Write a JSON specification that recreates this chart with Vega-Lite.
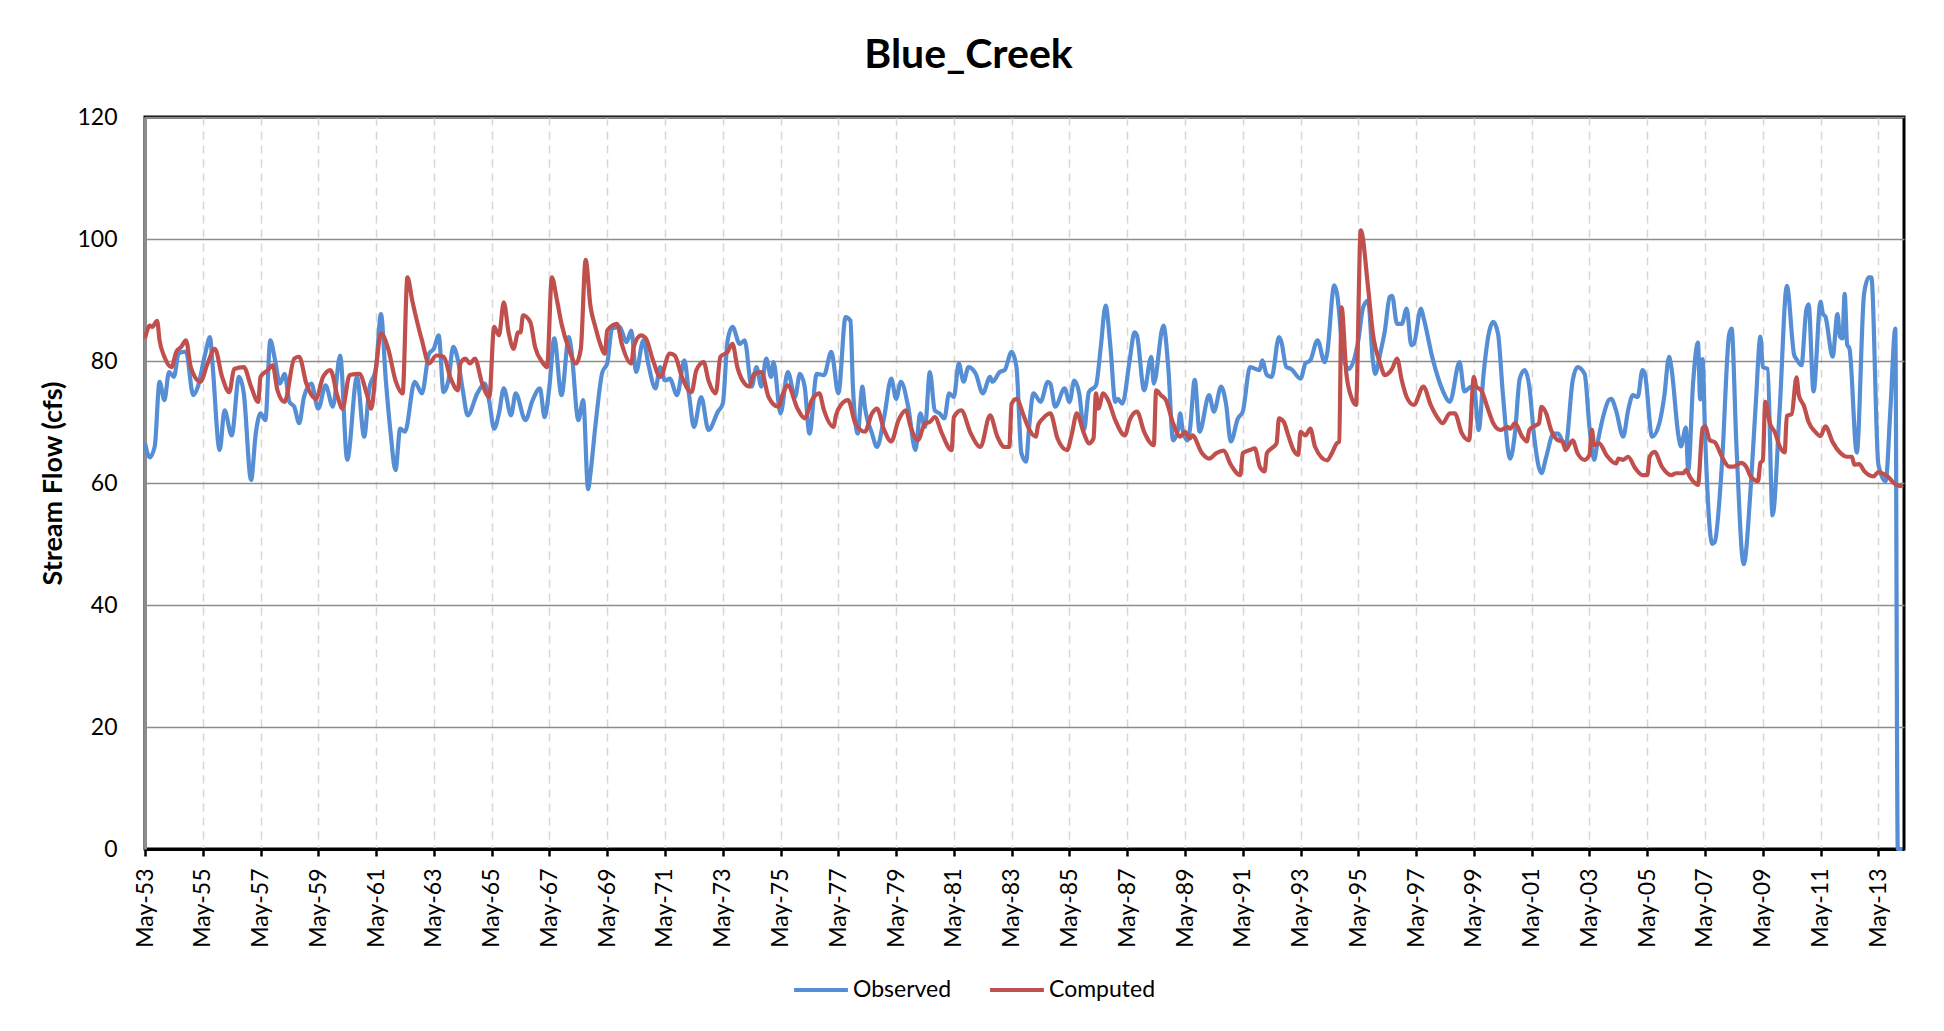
{
  "$schema": "https://vega.github.io/schema/vega-lite/v6.json",
  "width": 1759,
  "height": 732,
  "autosize": {"type": "none"},
  "padding": {"left": 145, "top": 117, "right": 40, "bottom": 182},
  "background": "white",
  "config": {
    "view": {"stroke": "black", "strokeWidth": 3},
    "font": "Lato"
  },
  "title": {"text": "Blue_Creek", "font": "Lato", "fontSize": 41, "fontWeight": "bold", "color": "black", "anchor": "middle", "frame": "group", "dx": -56, "offset": -3, "baseline": "alphabetic"},
  "data": {"values": [
    {"date":"1953-05","series":"Observed","flow":66.5},{"date":"1953-07","series":"Observed","flow":64.2},{"date":"1953-09","series":"Observed","flow":66.0},{"date":"1953-11","series":"Observed","flow":76.6},{"date":"1954-01","series":"Observed","flow":73.6},{"date":"1954-03","series":"Observed","flow":78.2},{"date":"1954-05","series":"Observed","flow":77.4},{"date":"1954-07","series":"Observed","flow":81.2},{"date":"1954-09","series":"Observed","flow":81.5},{"date":"1954-10","series":"Observed","flow":81.5},{"date":"1955-01","series":"Observed","flow":74.4},{"date":"1955-03","series":"Observed","flow":75.8},{"date":"1955-06","series":"Observed","flow":81.2},{"date":"1955-08","series":"Observed","flow":83.9},{"date":"1955-09","series":"Observed","flow":79.6},{"date":"1955-12","series":"Observed","flow":65.4},{"date":"1956-02","series":"Observed","flow":71.9},{"date":"1956-05","series":"Observed","flow":67.8},{"date":"1956-08","series":"Observed","flow":77.4},{"date":"1956-10","series":"Observed","flow":74.7},{"date":"1957-01","series":"Observed","flow":60.5},{"date":"1957-03","series":"Observed","flow":68.1},{"date":"1957-05","series":"Observed","flow":71.4},{"date":"1957-07","series":"Observed","flow":70.3},{"date":"1957-09","series":"Observed","flow":83.4},{"date":"1957-11","series":"Observed","flow":80.1},{"date":"1958-01","series":"Observed","flow":76.3},{"date":"1958-03","series":"Observed","flow":77.9},{"date":"1958-05","series":"Observed","flow":73.3},{"date":"1958-07","series":"Observed","flow":72.5},{"date":"1958-09","series":"Observed","flow":69.8},{"date":"1958-11","series":"Observed","flow":74.1},{"date":"1959-02","series":"Observed","flow":76.3},{"date":"1959-05","series":"Observed","flow":72.2},{"date":"1959-08","series":"Observed","flow":76.0},{"date":"1959-11","series":"Observed","flow":72.5},{"date":"1960-02","series":"Observed","flow":80.9},{"date":"1960-05","series":"Observed","flow":63.8},{"date":"1960-09","series":"Observed","flow":77.4},{"date":"1960-12","series":"Observed","flow":67.6},
    {"date":"1961-02","series":"Observed","flow":75.2},{"date":"1961-05","series":"Observed","flow":79.0},{"date":"1961-07","series":"Observed","flow":87.7},{"date":"1961-09","series":"Observed","flow":76.8},{"date":"1961-11","series":"Observed","flow":68.1},{"date":"1962-01","series":"Observed","flow":62.1},{"date":"1962-03","series":"Observed","flow":68.9},{"date":"1962-05","series":"Observed","flow":68.4},{"date":"1962-09","series":"Observed","flow":76.6},{"date":"1962-12","series":"Observed","flow":74.7},{"date":"1963-03","series":"Observed","flow":81.2},{"date":"1963-05","series":"Observed","flow":82.0},{"date":"1963-07","series":"Observed","flow":84.2},{"date":"1963-09","series":"Observed","flow":74.9},{"date":"1963-11","series":"Observed","flow":76.8},{"date":"1964-01","series":"Observed","flow":82.3},{"date":"1964-03","series":"Observed","flow":80.1},{"date":"1964-05","series":"Observed","flow":75.2},{"date":"1964-07","series":"Observed","flow":71.1},{"date":"1964-11","series":"Observed","flow":74.7},{"date":"1965-02","series":"Observed","flow":76.3},{"date":"1965-04","series":"Observed","flow":73.3},{"date":"1965-06","series":"Observed","flow":68.9},{"date":"1965-08","series":"Observed","flow":71.4},{"date":"1965-10","series":"Observed","flow":75.5},{"date":"1966-01","series":"Observed","flow":71.1},{"date":"1966-03","series":"Observed","flow":74.7},{"date":"1966-07","series":"Observed","flow":70.3},{"date":"1966-10","series":"Observed","flow":73.6},{"date":"1967-01","series":"Observed","flow":75.5},{"date":"1967-03","series":"Observed","flow":70.8},{"date":"1967-05","series":"Observed","flow":75.8},{"date":"1967-07","series":"Observed","flow":83.7},{"date":"1967-10","series":"Observed","flow":74.4},{"date":"1968-01","series":"Observed","flow":83.9},{"date":"1968-02","series":"Observed","flow":82.0},{"date":"1968-05","series":"Observed","flow":70.3},{"date":"1968-07","series":"Observed","flow":73.6},{"date":"1968-09","series":"Observed","flow":59.0},{"date":"1968-10","series":"Observed","flow":61.6},
    {"date":"1968-12","series":"Observed","flow":69.2},{"date":"1969-03","series":"Observed","flow":78.2},{"date":"1969-05","series":"Observed","flow":79.6},{"date":"1969-07","series":"Observed","flow":85.3},{"date":"1969-10","series":"Observed","flow":85.6},{"date":"1970-01","series":"Observed","flow":83.1},{"date":"1970-03","series":"Observed","flow":85.0},{"date":"1970-05","series":"Observed","flow":78.2},{"date":"1970-08","series":"Observed","flow":83.4},{"date":"1970-10","series":"Observed","flow":79.6},{"date":"1971-01","series":"Observed","flow":75.5},{"date":"1971-03","series":"Observed","flow":79.0},{"date":"1971-05","series":"Observed","flow":76.8},{"date":"1971-07","series":"Observed","flow":77.1},{"date":"1971-10","series":"Observed","flow":74.4},{"date":"1972-01","series":"Observed","flow":80.1},{"date":"1972-03","series":"Observed","flow":74.4},{"date":"1972-05","series":"Observed","flow":69.2},{"date":"1972-08","series":"Observed","flow":74.1},{"date":"1972-11","series":"Observed","flow":68.7},{"date":"1973-03","series":"Observed","flow":71.7},{"date":"1973-05","series":"Observed","flow":73.0},{"date":"1973-07","series":"Observed","flow":83.4},{"date":"1973-09","series":"Observed","flow":85.6},{"date":"1973-12","series":"Observed","flow":82.8},{"date":"1974-02","series":"Observed","flow":83.4},{"date":"1974-05","series":"Observed","flow":75.8},{"date":"1974-07","series":"Observed","flow":79.0},{"date":"1974-09","series":"Observed","flow":75.8},{"date":"1974-11","series":"Observed","flow":80.4},{"date":"1975-01","series":"Observed","flow":77.4},{"date":"1975-02","series":"Observed","flow":79.8},{"date":"1975-05","series":"Observed","flow":71.4},{"date":"1975-08","series":"Observed","flow":78.2},{"date":"1975-11","series":"Observed","flow":74.1},{"date":"1976-01","series":"Observed","flow":77.9},{"date":"1976-03","series":"Observed","flow":75.8},{"date":"1976-05","series":"Observed","flow":68.1},
    {"date":"1976-08","series":"Observed","flow":77.9},{"date":"1976-11","series":"Observed","flow":77.7},{"date":"1977-02","series":"Observed","flow":81.5},{"date":"1977-05","series":"Observed","flow":74.7},{"date":"1977-08","series":"Observed","flow":87.2},{"date":"1977-10","series":"Observed","flow":86.6},{"date":"1977-11","series":"Observed","flow":75.8},{"date":"1978-01","series":"Observed","flow":68.1},{"date":"1978-03","series":"Observed","flow":75.8},{"date":"1978-04","series":"Observed","flow":72.5},{"date":"1978-07","series":"Observed","flow":68.1},{"date":"1978-09","series":"Observed","flow":65.9},{"date":"1978-12","series":"Observed","flow":70.8},{"date":"1979-03","series":"Observed","flow":77.1},{"date":"1979-05","series":"Observed","flow":73.8},{"date":"1979-07","series":"Observed","flow":76.6},{"date":"1979-10","series":"Observed","flow":72.5},{"date":"1980-01","series":"Observed","flow":65.4},{"date":"1980-03","series":"Observed","flow":71.4},{"date":"1980-05","series":"Observed","flow":69.2},{"date":"1980-07","series":"Observed","flow":78.2},{"date":"1980-09","series":"Observed","flow":71.9},{"date":"1980-11","series":"Observed","flow":71.4},{"date":"1981-01","series":"Observed","flow":70.6},{"date":"1981-03","series":"Observed","flow":74.7},{"date":"1981-05","series":"Observed","flow":74.1},{"date":"1981-07","series":"Observed","flow":79.6},{"date":"1981-09","series":"Observed","flow":76.6},{"date":"1981-11","series":"Observed","flow":79.0},{"date":"1982-02","series":"Observed","flow":77.9},{"date":"1982-05","series":"Observed","flow":74.7},{"date":"1982-08","series":"Observed","flow":77.4},{"date":"1982-09","series":"Observed","flow":76.6},{"date":"1982-12","series":"Observed","flow":78.2},{"date":"1983-02","series":"Observed","flow":78.5},{"date":"1983-05","series":"Observed","flow":81.5},{"date":"1983-07","series":"Observed","flow":79.0},{"date":"1983-09","series":"Observed","flow":64.9},{"date":"1983-11","series":"Observed","flow":63.5},
    {"date":"1983-12","series":"Observed","flow":68.1},{"date":"1984-02","series":"Observed","flow":74.7},{"date":"1984-05","series":"Observed","flow":73.3},{"date":"1984-08","series":"Observed","flow":76.6},{"date":"1984-09","series":"Observed","flow":76.3},{"date":"1984-11","series":"Observed","flow":72.5},{"date":"1985-03","series":"Observed","flow":75.5},{"date":"1985-05","series":"Observed","flow":73.3},{"date":"1985-07","series":"Observed","flow":76.8},{"date":"1985-09","series":"Observed","flow":74.7},{"date":"1985-11","series":"Observed","flow":68.7},{"date":"1986-01","series":"Observed","flow":74.9},{"date":"1986-04","series":"Observed","flow":76.0},{"date":"1986-06","series":"Observed","flow":82.3},{"date":"1986-08","series":"Observed","flow":89.1},{"date":"1986-10","series":"Observed","flow":82.3},{"date":"1986-12","series":"Observed","flow":73.3},{"date":"1987-01","series":"Observed","flow":73.8},{"date":"1987-03","series":"Observed","flow":73.0},{"date":"1987-06","series":"Observed","flow":80.1},{"date":"1987-08","series":"Observed","flow":84.7},{"date":"1987-09","series":"Observed","flow":84.2},{"date":"1987-12","series":"Observed","flow":75.2},{"date":"1988-03","series":"Observed","flow":80.7},{"date":"1988-04","series":"Observed","flow":76.3},{"date":"1988-08","series":"Observed","flow":85.8},{"date":"1988-10","series":"Observed","flow":79.0},{"date":"1988-12","series":"Observed","flow":67.0},{"date":"1989-02","series":"Observed","flow":68.7},{"date":"1989-03","series":"Observed","flow":71.4},{"date":"1989-04","series":"Observed","flow":68.7},{"date":"1989-06","series":"Observed","flow":67.0},{"date":"1989-07","series":"Observed","flow":68.7},{"date":"1989-09","series":"Observed","flow":76.9},{"date":"1989-11","series":"Observed","flow":68.4},{"date":"1990-03","series":"Observed","flow":74.4},{"date":"1990-05","series":"Observed","flow":71.7},{"date":"1990-08","series":"Observed","flow":75.8},{"date":"1990-10","series":"Observed","flow":73.0},{"date":"1990-12","series":"Observed","flow":66.8},{"date":"1991-03","series":"Observed","flow":70.6},{"date":"1991-05","series":"Observed","flow":71.7},{"date":"1991-08","series":"Observed","flow":79.0},
    {"date":"1991-12","series":"Observed","flow":78.5},{"date":"1992-01","series":"Observed","flow":80.1},{"date":"1992-03","series":"Observed","flow":77.7},{"date":"1992-05","series":"Observed","flow":77.4},{"date":"1992-08","series":"Observed","flow":83.9},{"date":"1992-09","series":"Observed","flow":83.1},{"date":"1992-11","series":"Observed","flow":79.0},{"date":"1993-01","series":"Observed","flow":78.7},{"date":"1993-05","series":"Observed","flow":77.1},{"date":"1993-07","series":"Observed","flow":79.6},{"date":"1993-09","series":"Observed","flow":80.1},{"date":"1993-12","series":"Observed","flow":83.4},{"date":"1994-03","series":"Observed","flow":79.8},{"date":"1994-04","series":"Observed","flow":81.2},{"date":"1994-07","series":"Observed","flow":92.4},{"date":"1994-08","series":"Observed","flow":91.3},{"date":"1994-11","series":"Observed","flow":80.1},{"date":"1995-01","series":"Observed","flow":78.7},{"date":"1995-05","series":"Observed","flow":83.4},{"date":"1995-07","series":"Observed","flow":88.8},{"date":"1995-09","series":"Observed","flow":89.9},{"date":"1995-11","series":"Observed","flow":80.1},{"date":"1995-12","series":"Observed","flow":77.9},{"date":"1996-02","series":"Observed","flow":81.2},{"date":"1996-04","series":"Observed","flow":85.0},{"date":"1996-06","series":"Observed","flow":90.5},{"date":"1996-07","series":"Observed","flow":90.7},{"date":"1996-09","series":"Observed","flow":86.1},{"date":"1996-11","series":"Observed","flow":86.1},{"date":"1997-01","series":"Observed","flow":88.6},{"date":"1997-03","series":"Observed","flow":82.6},{"date":"1997-04","series":"Observed","flow":82.8},{"date":"1997-07","series":"Observed","flow":88.6},{"date":"1997-08","series":"Observed","flow":87.2},{"date":"1997-12","series":"Observed","flow":80.1},{"date":"1998-04","series":"Observed","flow":75.2},{"date":"1998-07","series":"Observed","flow":73.3},{"date":"1998-11","series":"Observed","flow":79.8},{"date":"1999-01","series":"Observed","flow":75.0},
    {"date":"1999-04","series":"Observed","flow":75.8},{"date":"1999-05","series":"Observed","flow":75.8},{"date":"1999-07","series":"Observed","flow":68.7},{"date":"1999-09","series":"Observed","flow":77.9},{"date":"1999-11","series":"Observed","flow":84.2},{"date":"2000-01","series":"Observed","flow":86.4},{"date":"2000-03","series":"Observed","flow":84.5},{"date":"2000-05","series":"Observed","flow":74.7},{"date":"2000-08","series":"Observed","flow":64.0},{"date":"2000-10","series":"Observed","flow":68.1},{"date":"2000-12","series":"Observed","flow":77.1},{"date":"2001-02","series":"Observed","flow":78.5},{"date":"2001-04","series":"Observed","flow":75.8},{"date":"2001-06","series":"Observed","flow":67.6},{"date":"2001-09","series":"Observed","flow":61.6},{"date":"2001-11","series":"Observed","flow":64.3},{"date":"2002-02","series":"Observed","flow":68.1},{"date":"2002-04","series":"Observed","flow":68.1},{"date":"2002-07","series":"Observed","flow":65.9},{"date":"2002-10","series":"Observed","flow":76.8},{"date":"2002-12","series":"Observed","flow":79.0},{"date":"2003-03","series":"Observed","flow":77.9},{"date":"2003-05","series":"Observed","flow":69.2},{"date":"2003-07","series":"Observed","flow":63.8},{"date":"2003-08","series":"Observed","flow":65.9},{"date":"2003-11","series":"Observed","flow":71.4},{"date":"2004-01","series":"Observed","flow":73.6},{"date":"2004-02","series":"Observed","flow":73.8},{"date":"2004-04","series":"Observed","flow":71.9},{"date":"2004-07","series":"Observed","flow":67.6},{"date":"2004-09","series":"Observed","flow":71.9},{"date":"2004-11","series":"Observed","flow":74.4},{"date":"2005-01","series":"Observed","flow":74.1},{"date":"2005-03","series":"Observed","flow":78.5},{"date":"2005-04","series":"Observed","flow":77.9},{"date":"2005-07","series":"Observed","flow":67.6},{"date":"2005-10","series":"Observed","flow":69.8},{"date":"2005-12","series":"Observed","flow":74.1},{"date":"2006-02","series":"Observed","flow":80.7},{"date":"2006-03","series":"Observed","flow":79.0},{"date":"2006-06","series":"Observed","flow":67.6},{"date":"2006-07","series":"Observed","flow":66.0},{"date":"2006-09","series":"Observed","flow":69.1},{"date":"2006-10","series":"Observed","flow":62.0},
    {"date":"2006-12","series":"Observed","flow":76.3},{"date":"2007-02","series":"Observed","flow":83.0},{"date":"2007-03","series":"Observed","flow":73.7},{"date":"2007-04","series":"Observed","flow":80.3},{"date":"2007-05","series":"Observed","flow":68.3},{"date":"2007-08","series":"Observed","flow":50.0},{"date":"2007-09","series":"Observed","flow":50.3},{"date":"2007-12","series":"Observed","flow":63.0},{"date":"2008-03","series":"Observed","flow":84.3},{"date":"2008-04","series":"Observed","flow":85.3},{"date":"2008-06","series":"Observed","flow":66.3},{"date":"2008-09","series":"Observed","flow":46.7},{"date":"2008-12","series":"Observed","flow":59.7},{"date":"2009-02","series":"Observed","flow":73.0},{"date":"2009-04","series":"Observed","flow":84.0},{"date":"2009-05","series":"Observed","flow":79.0},{"date":"2009-07","series":"Observed","flow":78.7},{"date":"2009-09","series":"Observed","flow":54.7},{"date":"2009-12","series":"Observed","flow":72.3},{"date":"2010-03","series":"Observed","flow":92.3},{"date":"2010-06","series":"Observed","flow":81.0},{"date":"2010-07","series":"Observed","flow":80.3},{"date":"2010-09","series":"Observed","flow":79.3},{"date":"2010-11","series":"Observed","flow":88.3},{"date":"2010-12","series":"Observed","flow":89.3},{"date":"2011-02","series":"Observed","flow":75.0},{"date":"2011-05","series":"Observed","flow":89.7},{"date":"2011-06","series":"Observed","flow":87.7},{"date":"2011-07","series":"Observed","flow":87.3},{"date":"2011-10","series":"Observed","flow":80.7},{"date":"2011-12","series":"Observed","flow":87.7},{"date":"2012-01","series":"Observed","flow":84.0},{"date":"2012-02","series":"Observed","flow":83.7},{"date":"2012-03","series":"Observed","flow":91.0},{"date":"2012-04","series":"Observed","flow":82.7},{"date":"2012-05","series":"Observed","flow":82.0},{"date":"2012-08","series":"Observed","flow":65.0},{"date":"2012-11","series":"Observed","flow":91.0},{"date":"2013-01","series":"Observed","flow":93.7},{"date":"2013-02","series":"Observed","flow":93.7},{"date":"2013-05","series":"Observed","flow":63.0},{"date":"2013-08","series":"Observed","flow":60.3},{"date":"2013-10","series":"Observed","flow":72.3},{"date":"2013-12","series":"Observed","flow":85.3},{"date":"2014-01","series":"Observed","flow":0},{"date":"2014-03","series":"Observed","flow":0},
    {"date":"1953-05","series":"Computed","flow":83.7},{"date":"1953-07","series":"Computed","flow":85.8},{"date":"1953-08","series":"Computed","flow":85.6},{"date":"1953-10","series":"Computed","flow":86.6},{"date":"1953-11","series":"Computed","flow":83.4},{"date":"1954-01","series":"Computed","flow":80.7},{"date":"1954-04","series":"Computed","flow":79.0},{"date":"1954-06","series":"Computed","flow":81.5},{"date":"1954-08","series":"Computed","flow":82.3},{"date":"1954-10","series":"Computed","flow":83.4},{"date":"1954-12","series":"Computed","flow":79.0},{"date":"1955-04","series":"Computed","flow":76.6},{"date":"1955-07","series":"Computed","flow":79.6},{"date":"1955-10","series":"Computed","flow":82.0},{"date":"1956-01","series":"Computed","flow":77.4},{"date":"1956-04","series":"Computed","flow":74.9},{"date":"1956-06","series":"Computed","flow":78.7},{"date":"1956-10","series":"Computed","flow":79.0},{"date":"1957-01","series":"Computed","flow":75.8},{"date":"1957-04","series":"Computed","flow":73.3},{"date":"1957-05","series":"Computed","flow":77.4},{"date":"1957-08","series":"Computed","flow":78.5},{"date":"1957-10","series":"Computed","flow":79.3},{"date":"1957-12","series":"Computed","flow":75.2},{"date":"1958-03","series":"Computed","flow":73.3},{"date":"1958-07","series":"Computed","flow":80.4},{"date":"1958-09","series":"Computed","flow":80.7},{"date":"1958-12","series":"Computed","flow":76.3},{"date":"1959-04","series":"Computed","flow":73.8},{"date":"1959-07","series":"Computed","flow":77.4},{"date":"1959-10","series":"Computed","flow":78.5},{"date":"1960-01","series":"Computed","flow":74.1},{"date":"1960-03","series":"Computed","flow":72.2},{"date":"1960-06","series":"Computed","flow":77.7},{"date":"1960-10","series":"Computed","flow":77.9},
    {"date":"1961-01","series":"Computed","flow":74.7},{"date":"1961-03","series":"Computed","flow":72.2},{"date":"1961-05","series":"Computed","flow":79.0},{"date":"1961-07","series":"Computed","flow":84.5},{"date":"1961-10","series":"Computed","flow":82.0},{"date":"1962-01","series":"Computed","flow":76.8},{"date":"1962-04","series":"Computed","flow":74.7},{"date":"1962-06","series":"Computed","flow":93.7},{"date":"1962-08","series":"Computed","flow":89.9},{"date":"1962-12","series":"Computed","flow":83.4},{"date":"1963-03","series":"Computed","flow":79.6},{"date":"1963-06","series":"Computed","flow":80.9},{"date":"1963-09","series":"Computed","flow":80.7},{"date":"1963-12","series":"Computed","flow":77.1},{"date":"1964-03","series":"Computed","flow":75.2},{"date":"1964-04","series":"Computed","flow":79.6},{"date":"1964-06","series":"Computed","flow":80.4},{"date":"1964-08","series":"Computed","flow":79.6},{"date":"1964-10","series":"Computed","flow":80.4},{"date":"1965-01","series":"Computed","flow":76.3},{"date":"1965-04","series":"Computed","flow":74.1},{"date":"1965-06","series":"Computed","flow":85.6},{"date":"1965-08","series":"Computed","flow":84.2},{"date":"1965-10","series":"Computed","flow":89.6},{"date":"1965-12","series":"Computed","flow":84.7},{"date":"1966-02","series":"Computed","flow":82.0},{"date":"1966-04","series":"Computed","flow":84.7},{"date":"1966-05","series":"Computed","flow":84.7},{"date":"1966-06","series":"Computed","flow":87.5},{"date":"1966-09","series":"Computed","flow":86.4},{"date":"1966-11","series":"Computed","flow":82.3},{"date":"1967-02","series":"Computed","flow":79.8},{"date":"1967-04","series":"Computed","flow":79.0},{"date":"1967-06","series":"Computed","flow":93.7},{"date":"1967-08","series":"Computed","flow":90.2},{"date":"1967-10","series":"Computed","flow":86.1},{"date":"1968-01","series":"Computed","flow":82.0},{"date":"1968-04","series":"Computed","flow":79.6},{"date":"1968-06","series":"Computed","flow":82.0},{"date":"1968-08","series":"Computed","flow":96.6},{"date":"1968-10","series":"Computed","flow":89.0},
    {"date":"1968-12","series":"Computed","flow":85.6},{"date":"1969-02","series":"Computed","flow":82.8},{"date":"1969-04","series":"Computed","flow":81.2},{"date":"1969-05","series":"Computed","flow":85.0},{"date":"1969-09","series":"Computed","flow":86.1},{"date":"1969-11","series":"Computed","flow":82.8},{"date":"1970-03","series":"Computed","flow":79.6},{"date":"1970-04","series":"Computed","flow":82.3},{"date":"1970-07","series":"Computed","flow":84.2},{"date":"1970-09","series":"Computed","flow":83.7},{"date":"1970-12","series":"Computed","flow":80.1},{"date":"1971-03","series":"Computed","flow":77.4},{"date":"1971-07","series":"Computed","flow":81.2},{"date":"1971-09","series":"Computed","flow":80.9},{"date":"1971-12","series":"Computed","flow":77.4},{"date":"1972-04","series":"Computed","flow":74.9},{"date":"1972-06","series":"Computed","flow":78.5},{"date":"1972-09","series":"Computed","flow":79.8},{"date":"1972-11","series":"Computed","flow":76.8},{"date":"1973-02","series":"Computed","flow":74.7},{"date":"1973-04","series":"Computed","flow":80.7},{"date":"1973-07","series":"Computed","flow":81.5},{"date":"1973-09","series":"Computed","flow":82.8},{"date":"1973-11","series":"Computed","flow":79.0},{"date":"1974-02","series":"Computed","flow":76.3},{"date":"1974-04","series":"Computed","flow":75.8},{"date":"1974-06","series":"Computed","flow":77.9},{"date":"1974-09","series":"Computed","flow":78.2},{"date":"1974-12","series":"Computed","flow":74.1},{"date":"1975-04","series":"Computed","flow":72.5},{"date":"1975-06","series":"Computed","flow":74.7},{"date":"1975-08","series":"Computed","flow":76.0},{"date":"1975-12","series":"Computed","flow":72.2},{"date":"1976-03","series":"Computed","flow":70.6},
    {"date":"1976-06","series":"Computed","flow":73.6},{"date":"1976-09","series":"Computed","flow":74.7},{"date":"1976-11","series":"Computed","flow":71.9},{"date":"1977-03","series":"Computed","flow":69.2},{"date":"1977-04","series":"Computed","flow":71.1},{"date":"1977-06","series":"Computed","flow":72.8},{"date":"1977-09","series":"Computed","flow":73.6},{"date":"1977-12","series":"Computed","flow":69.8},{"date":"1978-04","series":"Computed","flow":68.4},{"date":"1978-07","series":"Computed","flow":71.4},{"date":"1978-09","series":"Computed","flow":72.2},{"date":"1978-12","series":"Computed","flow":68.7},{"date":"1979-03","series":"Computed","flow":66.8},{"date":"1979-06","series":"Computed","flow":70.3},{"date":"1979-09","series":"Computed","flow":71.9},{"date":"1979-11","series":"Computed","flow":69.2},{"date":"1980-02","series":"Computed","flow":67.0},{"date":"1980-05","series":"Computed","flow":69.8},{"date":"1980-07","series":"Computed","flow":70.0},{"date":"1980-09","series":"Computed","flow":70.8},{"date":"1980-12","series":"Computed","flow":68.1},{"date":"1981-04","series":"Computed","flow":65.4},{"date":"1981-05","series":"Computed","flow":70.8},{"date":"1981-08","series":"Computed","flow":71.9},{"date":"1981-12","series":"Computed","flow":68.1},{"date":"1982-04","series":"Computed","flow":65.9},{"date":"1982-08","series":"Computed","flow":71.1},{"date":"1982-11","series":"Computed","flow":67.6},{"date":"1983-02","series":"Computed","flow":65.9},{"date":"1983-04","series":"Computed","flow":65.9},{"date":"1983-05","series":"Computed","flow":73.0},{"date":"1983-07","series":"Computed","flow":73.8},{"date":"1983-10","series":"Computed","flow":71.0},{"date":"1983-12","series":"Computed","flow":69.0},
    {"date":"1984-03","series":"Computed","flow":67.6},{"date":"1984-04","series":"Computed","flow":69.5},{"date":"1984-06","series":"Computed","flow":70.6},{"date":"1984-09","series":"Computed","flow":71.4},{"date":"1984-12","series":"Computed","flow":67.3},{"date":"1985-04","series":"Computed","flow":65.4},{"date":"1985-06","series":"Computed","flow":68.1},{"date":"1985-08","series":"Computed","flow":71.4},{"date":"1985-11","series":"Computed","flow":68.1},{"date":"1986-01","series":"Computed","flow":66.5},{"date":"1986-03","series":"Computed","flow":67.3},{"date":"1986-04","series":"Computed","flow":74.7},{"date":"1986-05","series":"Computed","flow":72.2},{"date":"1986-07","series":"Computed","flow":74.7},{"date":"1986-09","series":"Computed","flow":73.6},{"date":"1986-12","series":"Computed","flow":70.3},{"date":"1987-04","series":"Computed","flow":67.8},{"date":"1987-06","series":"Computed","flow":70.3},{"date":"1987-09","series":"Computed","flow":71.7},{"date":"1987-12","series":"Computed","flow":68.4},{"date":"1988-04","series":"Computed","flow":66.2},{"date":"1988-05","series":"Computed","flow":75.2},{"date":"1988-07","series":"Computed","flow":74.4},{"date":"1988-09","series":"Computed","flow":73.6},{"date":"1988-12","series":"Computed","flow":69.8},{"date":"1989-03","series":"Computed","flow":67.6},{"date":"1989-05","series":"Computed","flow":68.4},{"date":"1989-07","series":"Computed","flow":67.3},{"date":"1989-08","series":"Computed","flow":67.8},{"date":"1989-12","series":"Computed","flow":64.9},{"date":"1990-03","series":"Computed","flow":64.0},{"date":"1990-06","series":"Computed","flow":64.9},{"date":"1990-09","series":"Computed","flow":65.3},{"date":"1990-12","series":"Computed","flow":63.0},{"date":"1991-04","series":"Computed","flow":61.3},{"date":"1991-05","series":"Computed","flow":64.9},{"date":"1991-08","series":"Computed","flow":65.4},
    {"date":"1991-10","series":"Computed","flow":65.7},{"date":"1991-12","series":"Computed","flow":62.7},{"date":"1992-02","series":"Computed","flow":61.9},{"date":"1992-03","series":"Computed","flow":64.9},{"date":"1992-05","series":"Computed","flow":65.7},{"date":"1992-07","series":"Computed","flow":66.5},{"date":"1992-08","series":"Computed","flow":70.6},{"date":"1992-10","series":"Computed","flow":70.0},{"date":"1992-12","series":"Computed","flow":67.6},{"date":"1993-02","series":"Computed","flow":65.4},{"date":"1993-04","series":"Computed","flow":64.6},{"date":"1993-05","series":"Computed","flow":68.4},{"date":"1993-07","series":"Computed","flow":67.8},{"date":"1993-09","series":"Computed","flow":68.9},{"date":"1993-11","series":"Computed","flow":65.9},{"date":"1994-04","series":"Computed","flow":63.7},{"date":"1994-06","series":"Computed","flow":64.9},{"date":"1994-08","series":"Computed","flow":66.5},{"date":"1994-09","series":"Computed","flow":66.8},{"date":"1994-10","series":"Computed","flow":88.8},{"date":"1994-12","series":"Computed","flow":77.9},{"date":"1995-02","series":"Computed","flow":74.1},{"date":"1995-04","series":"Computed","flow":72.8},{"date":"1995-06","series":"Computed","flow":101.4},{"date":"1995-09","series":"Computed","flow":92.1},{"date":"1995-11","series":"Computed","flow":84.5},{"date":"1996-02","series":"Computed","flow":79.6},{"date":"1996-04","series":"Computed","flow":77.7},{"date":"1996-07","series":"Computed","flow":78.7},{"date":"1996-09","series":"Computed","flow":80.4},{"date":"1996-11","series":"Computed","flow":76.8},{"date":"1997-01","series":"Computed","flow":74.1},{"date":"1997-04","series":"Computed","flow":72.8},{"date":"1997-08","series":"Computed","flow":75.8},{"date":"1997-11","series":"Computed","flow":72.8},{"date":"1998-02","series":"Computed","flow":70.6},{"date":"1998-04","series":"Computed","flow":69.8},{"date":"1998-07","series":"Computed","flow":71.4},{"date":"1998-09","series":"Computed","flow":71.4},{"date":"1998-12","series":"Computed","flow":68.1},{"date":"1999-03","series":"Computed","flow":67.0},
    {"date":"1999-05","series":"Computed","flow":77.4},{"date":"1999-06","series":"Computed","flow":75.8},{"date":"1999-08","series":"Computed","flow":75.2},{"date":"1999-11","series":"Computed","flow":71.9},{"date":"2000-01","series":"Computed","flow":69.8},{"date":"2000-04","series":"Computed","flow":68.7},{"date":"2000-07","series":"Computed","flow":69.2},{"date":"2000-08","series":"Computed","flow":68.9},{"date":"2000-10","series":"Computed","flow":69.8},{"date":"2001-01","series":"Computed","flow":67.6},{"date":"2001-03","series":"Computed","flow":66.8},{"date":"2001-04","series":"Computed","flow":68.7},{"date":"2001-07","series":"Computed","flow":69.5},{"date":"2001-08","series":"Computed","flow":69.8},{"date":"2001-09","series":"Computed","flow":72.5},{"date":"2001-11","series":"Computed","flow":71.4},{"date":"2002-01","series":"Computed","flow":68.7},{"date":"2002-04","series":"Computed","flow":67.0},{"date":"2002-06","series":"Computed","flow":66.8},{"date":"2002-07","series":"Computed","flow":65.4},{"date":"2002-10","series":"Computed","flow":67.0},{"date":"2002-12","series":"Computed","flow":64.9},{"date":"2003-03","series":"Computed","flow":63.8},{"date":"2003-05","series":"Computed","flow":64.6},{"date":"2003-06","series":"Computed","flow":68.7},{"date":"2003-07","series":"Computed","flow":66.2},{"date":"2003-09","series":"Computed","flow":66.5},{"date":"2003-12","series":"Computed","flow":64.6},{"date":"2004-04","series":"Computed","flow":63.2},{"date":"2004-05","series":"Computed","flow":64.0},{"date":"2004-07","series":"Computed","flow":63.8},{"date":"2004-09","series":"Computed","flow":64.3},{"date":"2004-12","series":"Computed","flow":62.4},{"date":"2005-03","series":"Computed","flow":61.3},{"date":"2005-05","series":"Computed","flow":61.3},{"date":"2005-06","series":"Computed","flow":64.3},{"date":"2005-08","series":"Computed","flow":65.1},{"date":"2005-11","series":"Computed","flow":62.7},{"date":"2006-03","series":"Computed","flow":61.3},{"date":"2006-05","series":"Computed","flow":61.6},{"date":"2006-08","series":"Computed","flow":61.6},{"date":"2006-09","series":"Computed","flow":62.1},{"date":"2006-11","series":"Computed","flow":60.8},
    {"date":"2007-02","series":"Computed","flow":59.7},{"date":"2007-04","series":"Computed","flow":69.0},{"date":"2007-05","series":"Computed","flow":69.3},{"date":"2007-07","series":"Computed","flow":67.0},{"date":"2007-09","series":"Computed","flow":66.7},{"date":"2007-12","series":"Computed","flow":64.3},{"date":"2008-03","series":"Computed","flow":62.7},{"date":"2008-05","series":"Computed","flow":62.7},{"date":"2008-08","series":"Computed","flow":63.3},{"date":"2008-10","series":"Computed","flow":62.7},{"date":"2008-12","series":"Computed","flow":61.0},{"date":"2009-03","series":"Computed","flow":60.3},{"date":"2009-04","series":"Computed","flow":63.3},{"date":"2009-05","series":"Computed","flow":63.7},{"date":"2009-06","series":"Computed","flow":73.3},{"date":"2009-08","series":"Computed","flow":69.7},{"date":"2009-10","series":"Computed","flow":68.3},{"date":"2009-12","series":"Computed","flow":66.0},{"date":"2010-02","series":"Computed","flow":65.0},{"date":"2010-03","series":"Computed","flow":71.0},{"date":"2010-05","series":"Computed","flow":71.3},{"date":"2010-07","series":"Computed","flow":77.3},{"date":"2010-08","series":"Computed","flow":74.3},{"date":"2010-10","series":"Computed","flow":72.7},{"date":"2010-12","series":"Computed","flow":70.0},{"date":"2011-03","series":"Computed","flow":68.3},{"date":"2011-05","series":"Computed","flow":67.7},{"date":"2011-07","series":"Computed","flow":69.3},{"date":"2011-10","series":"Computed","flow":66.7},{"date":"2012-01","series":"Computed","flow":65.0},{"date":"2012-04","series":"Computed","flow":64.3},{"date":"2012-06","series":"Computed","flow":64.3},{"date":"2012-07","series":"Computed","flow":63.0},{"date":"2012-09","series":"Computed","flow":63.1},{"date":"2012-11","series":"Computed","flow":62.0},{"date":"2013-03","series":"Computed","flow":61.1},{"date":"2013-05","series":"Computed","flow":61.8},{"date":"2013-06","series":"Computed","flow":61.7},{"date":"2013-09","series":"Computed","flow":61.0},{"date":"2013-12","series":"Computed","flow":59.8},{"date":"2014-02","series":"Computed","flow":59.5},{"date":"2014-03","series":"Computed","flow":59.7}
  ]},
  "encoding": {
    "x": {
      "field": "date", "type": "temporal",
      "scale": {"type": "utc", "domain": [{"year": 1953, "month": 5, "date": 1, "utc": true}, {"year": 2014, "month": 3, "date": 21, "utc": true}]},
      "axis": {
        "title": null,
        "values": [
          {"year":1953,"month":5,"date":1,"utc":true},{"year":1955,"month":5,"date":1,"utc":true},{"year":1957,"month":5,"date":1,"utc":true},{"year":1959,"month":5,"date":1,"utc":true},{"year":1961,"month":5,"date":1,"utc":true},{"year":1963,"month":5,"date":1,"utc":true},{"year":1965,"month":5,"date":1,"utc":true},{"year":1967,"month":5,"date":1,"utc":true},{"year":1969,"month":5,"date":1,"utc":true},{"year":1971,"month":5,"date":1,"utc":true},{"year":1973,"month":5,"date":1,"utc":true},{"year":1975,"month":5,"date":1,"utc":true},{"year":1977,"month":5,"date":1,"utc":true},{"year":1979,"month":5,"date":1,"utc":true},{"year":1981,"month":5,"date":1,"utc":true},{"year":1983,"month":5,"date":1,"utc":true},{"year":1985,"month":5,"date":1,"utc":true},{"year":1987,"month":5,"date":1,"utc":true},{"year":1989,"month":5,"date":1,"utc":true},{"year":1991,"month":5,"date":1,"utc":true},{"year":1993,"month":5,"date":1,"utc":true},{"year":1995,"month":5,"date":1,"utc":true},{"year":1997,"month":5,"date":1,"utc":true},{"year":1999,"month":5,"date":1,"utc":true},{"year":2001,"month":5,"date":1,"utc":true},{"year":2003,"month":5,"date":1,"utc":true},{"year":2005,"month":5,"date":1,"utc":true},{"year":2007,"month":5,"date":1,"utc":true},{"year":2009,"month":5,"date":1,"utc":true},{"year":2011,"month":5,"date":1,"utc":true},{"year":2013,"month":5,"date":1,"utc":true}
        ],
        "format": "%b-%y",
        "labelAngle": -90,
        "labelFont": "Lato", "labelFontSize": 23, "labelColor": "black",
        "labelPadding": 12, "labelOverlap": false, "labelFlush": false, "labelBound": false,
        "tickColor": "black", "tickSize": 7, "tickWidth": 2.5,
        "domainColor": "black", "domainWidth": 3,
        "grid": true, "gridColor": "#d6d6d6", "gridDash": [8, 6], "gridWidth": 1.5
      }
    },
    "y": {
      "field": "flow", "type": "quantitative",
      "scale": {"domain": [0, 120], "nice": false, "zero": true},
      "axis": {
        "title": "Stream Flow (cfs)",
        "titleFont": "Lato", "titleFontSize": 27, "titleFontWeight": "bold", "titleColor": "black", "titlePadding": 9,
        "values": [0, 20, 40, 60, 80, 100, 120],
        "labelFont": "Lato", "labelFontSize": 23, "labelColor": "black", "labelPadding": 28,
        "ticks": false,
        "domainColor": "#8c8c8c", "domainWidth": 3,
        "grid": true, "gridColor": "#8c8c8c", "gridWidth": 1.7
      }
    },
    "color": {
      "field": "series", "type": "nominal",
      "scale": {"domain": ["Observed", "Computed"], "range": ["#558ED5", "#C0504D"]},
      "legend": {
        "title": null, "orient": "none", "legendX": 647, "legendY": 844, "direction": "horizontal",
        "labelFont": "Lato", "labelFontSize": 23, "labelColor": "black", "labelOffset": 3,
        "symbolType": "stroke", "symbolStrokeWidth": 4, "symbolSize": 2900, "columnPadding": 30
      }
    }
  },
  "layer": [
    {"transform": [{"filter": "datum.series === 'Observed'"}], "mark": {"type": "line", "strokeWidth": 4.2, "interpolate": "monotone"}},
    {"transform": [{"filter": "datum.series === 'Computed'"}], "mark": {"type": "line", "strokeWidth": 4.2, "interpolate": "monotone"}}
  ]
}
